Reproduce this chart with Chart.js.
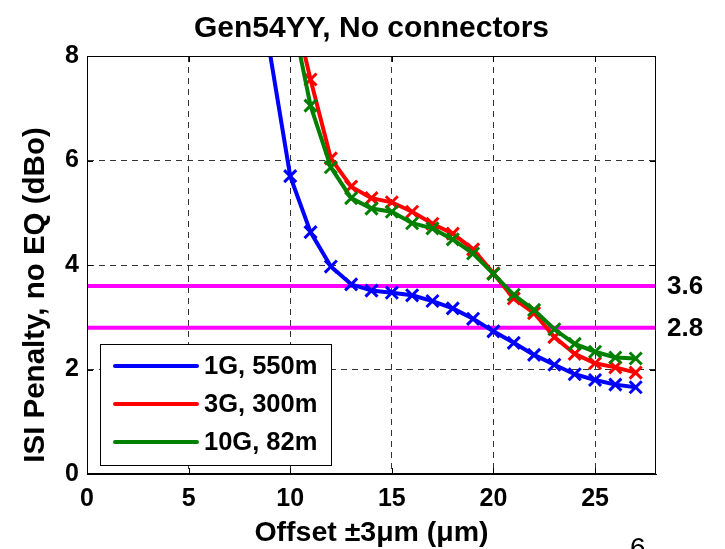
<!DOCTYPE html>
<html>
<head>
<meta charset="utf-8">
<script src="https://cdn.jsdelivr.net/npm/chart.js@4.4.1/dist/chart.umd.min.js"></script>
<style>
  html, body { margin: 0; padding: 0; background: #ffffff; }
  #wrap { width: 725px; height: 549px; position: relative; }
</style>
</head>
<body>
<div id="wrap"><canvas id="chart" width="725" height="549"></canvas></div>
<script>
// ---- text ----
const titleText = 'Gen54YY, No connectors';
const xAxisTitle = 'Offset \u00B13\u03BCm (\u03BCm)';
const yAxisTitle = 'ISI Penalty, no EQ (dBo)';
const pageNumber = '6';

// ---- axes ----
const xTicks = [0, 5, 10, 15, 20, 25];
const yTicks = [0, 2, 4, 6, 8];
const xMin = 0, xMax = 28;
const yMin = 0, yMax = 8;

// ---- series ----
const seriesLabels = ['1G, 550m', '3G, 300m', '10G, 82m'];
const seriesColors = ['#0000ff', '#ff0000', '#008000'];

const offset1G  = [9, 10, 11, 12, 13, 14, 15, 16, 17, 18, 19, 20, 21, 22, 23, 24, 25, 26, 27];
const penalty1G = [8.06, 5.70, 4.63, 3.97, 3.63, 3.51, 3.47, 3.42, 3.31, 3.17, 2.97, 2.73, 2.51, 2.28, 2.09, 1.91, 1.80, 1.71, 1.66];

const offset3G  = [10, 11, 12, 13, 14, 15, 16, 17, 18, 19, 20, 21, 22, 23, 24, 25, 26, 27];
const penalty3G = [9.20, 7.55, 6.04, 5.50, 5.28, 5.20, 5.02, 4.79, 4.60, 4.30, 3.84, 3.36, 3.08, 2.62, 2.30, 2.12, 2.04, 1.94];

const offset10G  = [10, 11, 12, 13, 14, 15, 16, 17, 18, 19, 20, 21, 22, 23, 24, 25, 26, 27];
const penalty10G = [8.95, 7.05, 5.87, 5.28, 5.08, 5.02, 4.80, 4.70, 4.49, 4.22, 3.83, 3.43, 3.14, 2.77, 2.49, 2.34, 2.23, 2.21];

// ---- reference levels ----
const refLevels = [3.6, 2.8];
const refLabels = ['3.6', '2.8'];
const refColor = '#ff00ff';

const FONT = '"Liberation Sans", Arial, Helvetica, sans-serif';

function toPoints(xs, ys) { return xs.map((x, i) => ({ x: x, y: ys[i] })); }

function curve(idx, xs, ys, order) {
  return {
    label: seriesLabels[idx],
    data: toPoints(xs, ys),
    borderColor: seriesColors[idx],
    backgroundColor: seriesColors[idx],
    borderWidth: 4,
    tension: 0,
    pointStyle: 'crossRot',
    pointRadius: (c) => (c.raw && c.raw.y > yMax ? 0 : 8.5),
    pointBorderWidth: 3,
    pointBorderColor: seriesColors[idx],
    pointHoverRadius: 0,
    order: order
  };
}

function refLine(level) {
  return {
    label: 'ref ' + level,
    data: [{ x: xMin, y: level }, { x: xMax, y: level }],
    borderColor: refColor,
    borderWidth: 4,
    pointRadius: 0,
    tension: 0,
    order: 10
  };
}

// Frame, inward ticks, legend and free text
const decorations = {
  id: 'decorations',
  afterDatasetsDraw(chart) {
    const { ctx, chartArea: a, scales } = chart;
    const xs = scales.x, ys = scales.y;
    ctx.save();

    // axis box
    ctx.strokeStyle = '#000';
    ctx.lineWidth = 1;
    ctx.setLineDash([]);
    ctx.strokeRect(a.left + 0.5, a.top + 0.5, a.right - a.left - 1, a.bottom - a.top - 1);

    // inward ticks on all four sides
    const tl = 6;
    ctx.beginPath();
    xTicks.forEach(v => {
      const px = Math.round(xs.getPixelForValue(v)) + 0.5;
      ctx.moveTo(px, a.bottom); ctx.lineTo(px, a.bottom - tl);
      ctx.moveTo(px, a.top); ctx.lineTo(px, a.top + tl);
    });
    yTicks.forEach(v => {
      const py = Math.round(ys.getPixelForValue(v)) + 0.5;
      ctx.moveTo(a.left, py); ctx.lineTo(a.left + tl, py);
      ctx.moveTo(a.right, py); ctx.lineTo(a.right - tl, py);
    });
    ctx.stroke();

    // legend
    const lg = { x: 100, y: 344, w: 231, h: 121 };
    ctx.fillStyle = '#fff';
    ctx.fillRect(lg.x, lg.y, lg.w, lg.h);
    ctx.strokeStyle = '#000';
    ctx.lineWidth = 1;
    ctx.strokeRect(lg.x + 0.5, lg.y + 0.5, lg.w, lg.h);
    const rowY = [366, 404, 442];
    seriesLabels.forEach((lab, i) => {
      ctx.strokeStyle = seriesColors[i];
      ctx.lineWidth = 4;
      ctx.lineCap = 'round';
      ctx.beginPath();
      ctx.moveTo(115, rowY[i]); ctx.lineTo(197, rowY[i]);
      ctx.stroke();
      ctx.fillStyle = '#000';
      ctx.font = 'bold 25.5px ' + FONT;
      ctx.textAlign = 'left';
      ctx.textBaseline = 'middle';
      ctx.fillText(lab, 204, rowY[i] + 1);
    });

    // reference level labels at the right
    ctx.fillStyle = '#000';
    ctx.font = 'bold 26px ' + FONT;
    ctx.textAlign = 'left';
    ctx.textBaseline = 'middle';
    refLevels.forEach((lv, i) => {
      ctx.fillText(refLabels[i], 667, ys.getPixelForValue(lv) + 1);
    });

    // title
    ctx.font = 'bold 30px ' + FONT;
    ctx.textAlign = 'center';
    ctx.textBaseline = 'alphabetic';
    ctx.fillText(titleText, (a.left + a.right) / 2, 37);

    // x axis title
    ctx.font = 'bold 28.5px ' + FONT;
    ctx.fillText(xAxisTitle, (a.left + a.right) / 2, 541);

    // y axis title
    ctx.save();
    ctx.translate(44, (a.top + a.bottom) / 2 + 30);
    ctx.rotate(-Math.PI / 2);
    ctx.font = 'bold 29.5px ' + FONT;
    ctx.textAlign = 'center';
    ctx.textBaseline = 'alphabetic';
    ctx.fillText(yAxisTitle, 0, 0);
    ctx.restore();

    // page number
    ctx.font = '28px ' + FONT;
    ctx.textAlign = 'left';
    ctx.fillText(pageNumber, 630, 557);

    ctx.restore();
  }
};

new Chart(document.getElementById('chart'), {
  type: 'line',
  data: {
    datasets: [
      curve(2, offset10G, penalty10G, 0),
      curve(1, offset3G, penalty3G, 1),
      curve(0, offset1G, penalty1G, 2),
      refLine(refLevels[0]),
      refLine(refLevels[1])
    ]
  },
  options: {
    responsive: false,
    animation: false,
    devicePixelRatio: 1,
    layout: { padding: { top: 56, right: 69, left: 0, bottom: 0 } },
    plugins: { legend: { display: false }, title: { display: false }, tooltip: { enabled: false } },
    scales: {
      x: {
        type: 'linear',
        min: xMin, max: xMax,
        afterBuildTicks: (s) => { s.ticks = xTicks.map(v => ({ value: v })); },
        afterFit: (s) => { s.height = 75; },
        grid: { color: '#333', lineWidth: 1, drawTicks: false },
        border: { display: true, color: '#000', width: 1, dash: [6, 5] },
        ticks: { color: '#000', font: { family: FONT, size: 25, weight: 'bold' }, padding: 10, maxRotation: 0 }
      },
      y: {
        type: 'linear',
        min: yMin, max: yMax,
        afterBuildTicks: (s) => { s.ticks = yTicks.map(v => ({ value: v })); },
        afterFit: (s) => { s.width = 87; },
        grid: { color: '#333', lineWidth: 1, drawTicks: false },
        border: { display: true, color: '#000', width: 1, dash: [6, 5] },
        ticks: { color: '#000', font: { family: FONT, size: 25, weight: 'bold' }, padding: 8 }
      }
    }
  },
  plugins: [decorations]
});
</script>
</body>
</html>
